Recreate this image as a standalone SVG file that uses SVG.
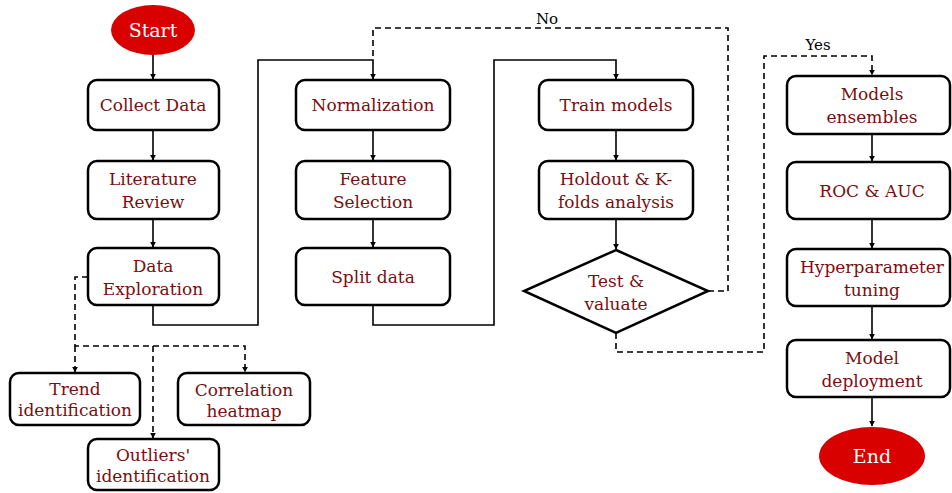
<svg xmlns="http://www.w3.org/2000/svg" width="952" height="493" viewBox="0 0 952 493">
<defs>
<marker id="ah" viewBox="0 0 10 10" refX="9" refY="5" markerWidth="6" markerHeight="6" markerUnits="userSpaceOnUse" orient="auto"><path d="M0,0 L10,5 L0,10 z" fill="#000"/></marker>
<style>
.box{fill:#fff;stroke:#000;stroke-width:2.5}
.t{font-family:"DejaVu Serif","Liberation Serif",serif;font-size:17px;fill:#7a0e0e;text-anchor:middle}
.w{font-family:"DejaVu Serif","Liberation Serif",serif;font-size:19px;fill:#fff;text-anchor:middle}
.lbl{font-family:"DejaVu Serif","Liberation Serif",serif;font-size:15px;fill:#000;text-anchor:middle}
.s{fill:none;stroke:#000;stroke-width:1.6}
.d{fill:none;stroke:#000;stroke-width:1.6;stroke-dasharray:6,4}
.oval{fill:#d90000}
</style>
</defs>
<rect width="952" height="493" fill="#fff"/>
<g id="connectors">
<path class="s" d="M153,55 V79" marker-end="url(#ah)"/>
<path class="s" d="M153,130 V160" marker-end="url(#ah)"/>
<path class="s" d="M153,219 V247" marker-end="url(#ah)"/>
<path class="s" d="M153,305 V325 H258 V60 H373 V79" marker-end="url(#ah)"/>
<path class="s" d="M373,130 V160" marker-end="url(#ah)"/>
<path class="s" d="M373,219 V247" marker-end="url(#ah)"/>
<path class="s" d="M373,305 V325 H494 V60 H616 V79" marker-end="url(#ah)"/>
<path class="s" d="M616,130 V160" marker-end="url(#ah)"/>
<path class="s" d="M616,219 V249" marker-end="url(#ah)"/>
<path class="d" d="M708,291 H728 V28 H373 V60"/>
<path class="d" d="M616,333 V352 H764 V56 H872 V75" marker-end="url(#ah)"/>
<path class="s" d="M872,134 V161" marker-end="url(#ah)"/>
<path class="s" d="M872,219 V248" marker-end="url(#ah)"/>
<path class="s" d="M872,306 V339" marker-end="url(#ah)"/>
<path class="s" d="M872,397 V426" marker-end="url(#ah)"/>
<path class="d" d="M88,277 H75 V346 H245 V372" marker-end="url(#ah)"/>
<path class="d" d="M75,346 V372" marker-end="url(#ah)"/>
<path class="d" d="M153,346 V438" marker-end="url(#ah)"/>
<text class="lbl" x="547" y="24">No</text>
<text class="lbl" x="818" y="50">Yes</text>
</g>
<g id="start"><ellipse class="oval" cx="153" cy="30" rx="42" ry="25"/><text class="w" x="153" y="37">Start</text></g>
<g id="collect"><rect class="box" x="88" y="80" width="131" height="50" rx="9"/><text class="t" x="153" y="111">Collect Data</text></g>
<g id="literature"><rect class="box" x="88" y="161" width="131" height="58" rx="9"/><text class="t" x="153" y="185">Literature</text><text class="t" x="153" y="208">Review</text></g>
<g id="exploration"><rect class="box" x="88" y="248" width="131" height="57" rx="9"/><text class="t" x="153" y="272">Data</text><text class="t" x="153" y="295">Exploration</text></g>
<g id="trend"><rect class="box" x="10" y="373" width="130" height="52" rx="9"/><text class="t" x="75" y="395">Trend</text><text class="t" x="75" y="416">identification</text></g>
<g id="correlation"><rect class="box" x="178" y="373" width="132" height="52" rx="9"/><text class="t" x="244" y="396">Correlation</text><text class="t" x="244" y="417">heatmap</text></g>
<g id="outliers"><rect class="box" x="88" y="439" width="131" height="51" rx="9"/><text class="t" x="153" y="461">Outliers'</text><text class="t" x="153" y="482">identification</text></g>
<g id="normalization"><rect class="box" x="296" y="80" width="154" height="50" rx="9"/><text class="t" x="373" y="111">Normalization</text></g>
<g id="feature"><rect class="box" x="296" y="161" width="154" height="58" rx="9"/><text class="t" x="373" y="185">Feature</text><text class="t" x="373" y="208">Selection</text></g>
<g id="split"><rect class="box" x="296" y="248" width="154" height="57" rx="9"/><text class="t" x="373" y="283">Split data</text></g>
<g id="train"><rect class="box" x="539" y="80" width="154" height="50" rx="9"/><text class="t" x="616" y="111">Train models</text></g>
<g id="holdout"><rect class="box" x="539" y="161" width="154" height="58" rx="9"/><text class="t" x="616" y="185">Holdout &amp; K-</text><text class="t" x="616" y="208">folds analysis</text></g>
<g id="test"><path class="box" d="M616,250 L708,291 L616,333 L524,291 z"/><text class="t" x="616" y="287">Test &amp;</text><text class="t" x="616" y="310">valuate</text></g>
<g id="ensembles"><rect class="box" x="787" y="76" width="163" height="58" rx="9"/><text class="t" x="872" y="100">Models</text><text class="t" x="872" y="123">ensembles</text></g>
<g id="roc"><rect class="box" x="787" y="162" width="163" height="57" rx="9"/><text class="t" x="872" y="197">ROC &amp; AUC</text></g>
<g id="hyper"><rect class="box" x="787" y="249" width="163" height="57" rx="9"/><text class="t" x="872" y="273">Hyperparameter</text><text class="t" x="872" y="296">tuning</text></g>
<g id="deploy"><rect class="box" x="787" y="340" width="163" height="57" rx="9"/><text class="t" x="872" y="364">Model</text><text class="t" x="872" y="387">deployment</text></g>
<g id="end"><ellipse class="oval" cx="872" cy="456" rx="53" ry="29"/><text class="w" x="872" y="463">End</text></g>
</svg>
